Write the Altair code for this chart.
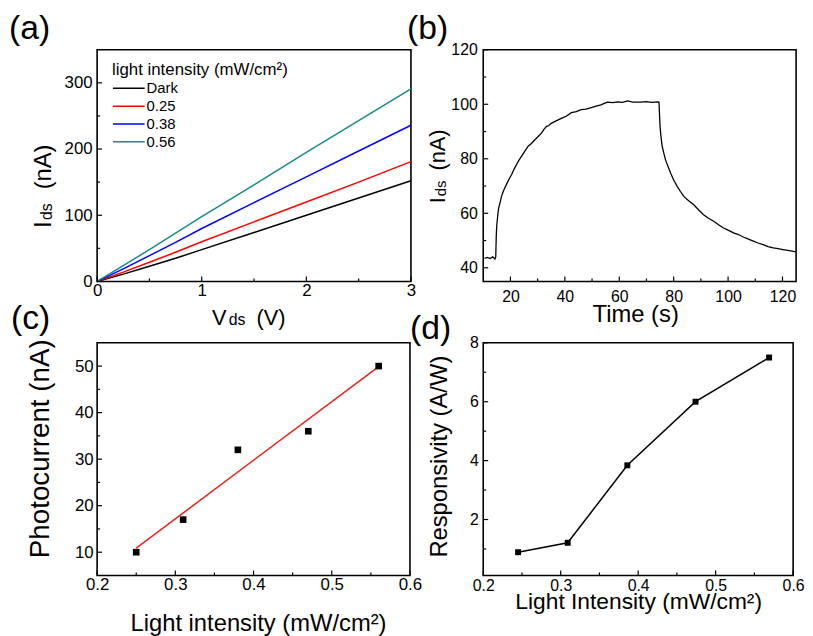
import altair as alt
import pandas as pd

FONT = "Liberation Sans"

# ---------------- (a) I-V curves ----------------
vds = [0, 0.25, 0.5, 0.75, 1.0, 1.5, 2.0, 2.5, 3.0]
ids_dark = [0, 11, 23, 35, 48, 74, 100, 126, 152]
ids_025 = [0, 14, 29, 44, 60, 90, 120, 150, 181]
ids_038 = [0, 19, 39, 59, 80, 119, 158, 197, 236]
ids_056 = [0, 24, 48, 73, 98, 146, 195, 243, 291]
series_names = ["Dark", "0.25", "0.38", "0.56"]
series_colors = ["#000000", "#ff0000", "#0000ff", "#178a8a"]
legend_title = "light intensity (mW/cm\u00b2)"

# ---------------- (b) time response ----------------
time_s = [10.5, 11.5, 12.5, 13.5, 14.3, 14.6, 14.8, 15.0, 15.6, 16.2, 16.8, 17.7, 18.6,
          19.5, 20.5, 21.4, 22.3, 23.2, 24.1, 25.3, 26.5, 27.7, 29.0, 30.2, 31.4, 32.3,
          33.2, 34.1, 35.0, 36.8, 38.7, 40.5, 42.4, 44.2, 46.0, 47.8, 49.7, 51.5, 53.3,
          54.5, 55.7, 57.5, 59.4, 61.2, 63.0, 65.0, 67.9, 70.0, 72.0, 74.0, 74.6, 75.0,
          75.4, 75.8, 76.4, 77.0, 78.0, 78.9, 80.0, 81.3, 82.5, 83.7, 85.5, 87.4, 89.2,
          91.0, 92.8, 94.7, 96.5, 98.3, 100.0, 102.0, 103.8, 105.6, 107.5, 109.3, 111.0,
          112.9, 114.7, 116.6, 118.4, 120.2, 122.5, 125.0]
ids_t = [43.5, 43.8, 43.4, 44.0, 43.2, 44.0, 52.0, 56.0, 61.5, 64.0, 66.5, 68.8, 70.7,
         72.6, 74.3, 76.3, 78.0, 79.6, 81.0, 82.8, 84.6, 85.6, 87.0, 88.2, 89.4, 90.8,
         91.8, 92.2, 93.0, 93.9, 94.8, 95.6, 96.9, 97.3, 98.0, 98.2, 98.8, 99.3, 99.8,
         100.3, 100.8, 100.6, 100.9, 100.7, 101.2, 100.8, 100.8, 101.0, 100.7, 100.9, 100.8, 91.7,
         87.5, 84.5, 82.0, 79.6, 77.0, 74.7, 72.2, 69.9, 68.0, 66.2, 64.6, 63.1, 61.2,
         59.5, 58.2, 57.1, 55.8, 54.6, 53.8, 52.8, 52.2, 51.3, 50.5, 49.8, 49.1,
         48.5, 47.8, 47.3, 47.0, 46.7, 46.3, 45.8]

# ---------------- (c) photocurrent ----------------
pc_intensity = [0.25, 0.31, 0.38, 0.47, 0.56]
photocurrent = [10, 17, 32, 36, 50]

# ---------------- (d) responsivity ----------------
resp_intensity = [0.245, 0.309, 0.386, 0.474, 0.569]
responsivity = [0.89, 1.21, 3.84, 6.0, 7.5]


def text_layer(txt, x, y, size, angle=0, align="left", baseline="alphabetic"):
    kw = dict(font=FONT, fontSize=size, align=align, baseline=baseline, color="black")
    if angle:
        kw["angle"] = angle
    return alt.Chart(pd.DataFrame({"t": [txt]})).mark_text(**kw).encode(
        x=alt.value(x), y=alt.value(y), text="t:N")


def make_axes(xdom, ydom, xvals, yvals, xfmt, yfmt, xpad, ypad, fs):
    xs = alt.Scale(domain=xdom, nice=False, zero=False)
    ys = alt.Scale(domain=ydom, nice=False, zero=False)
    common = dict(title=None, ticks=False, domain=False, grid=False, labelFontSize=fs,
                  labelFlush=False, labelOverlap=False, labelFont=FONT, labelColor="black")
    xa = alt.Axis(values=xvals, format=xfmt, labelPadding=xpad, **common)
    ya = alt.Axis(values=yvals, format=yfmt, labelPadding=ypad, **common)

    def X(f):
        return alt.X(f, scale=xs, axis=xa)

    def Y(f):
        return alt.Y(f, scale=ys, axis=ya)
    return X, Y


def tick_layers(X, Y, H, xmaj, xmin, ymaj, ymin):
    out = []
    for vals, L in ((xmaj, 5), (xmin, 3)):
        out.append(alt.Chart(pd.DataFrame({"v": vals})).mark_rule(color="black", strokeWidth=1.2)
                   .encode(x=X("v:Q"), y=alt.value(H), y2=alt.value(H - L)))
    for vals, L in ((ymaj, 5), (ymin, 3)):
        out.append(alt.Chart(pd.DataFrame({"v": vals})).mark_rule(color="black", strokeWidth=1.2)
                   .encode(y=Y("v:Q"), x=alt.value(0), x2=alt.value(L)))
    return out


# ================= panel (a) =================
WA, HA = 317, 234
Xa, Ya = make_axes([0, 3], [0, 350], [0, 1, 2, 3], [0, 100, 200, 300], "d", "d", 1, 5, 17)
rows = []
for name, vals in zip(series_names, [ids_dark, ids_025, ids_038, ids_056]):
    for v, i in zip(vds, vals):
        rows.append({"V": v, "I": i, "series": name})
df_a = pd.DataFrame(rows)
color_scale = alt.Scale(domain=series_names, range=series_colors)
lines_a = alt.Chart(df_a).mark_line(strokeWidth=1.5).encode(
    x=Xa("V:Q"), y=Ya("I:Q"),
    color=alt.Color("series:N", scale=color_scale, legend=None))
layers_a = [lines_a] + tick_layers(Xa, Ya, HA, [0, 1, 2, 3], [0.5, 1.5, 2.5],
                                   [0, 100, 200, 300], [50, 150, 250])
# legend
layers_a.append(text_layer(legend_title, 15, 26, 17))
for k, (name, col) in enumerate(zip(series_names, series_colors)):
    yy = 39 + 18 * k
    layers_a.append(alt.Chart(pd.DataFrame({"s": [name]})).mark_rule(color=col, strokeWidth=1.5)
                    .encode(x=alt.value(16), x2=alt.value(48), y=alt.value(yy)))
    layers_a.append(text_layer(name, 50, yy, 15, baseline="middle"))
# titles
layers_a += [
    text_layer("(a)", -89, -38, 34, baseline="top"),
    text_layer("V", 116, 278, 22),
    text_layer("ds", 133, 278, 16),
    text_layer("(V)", 161, 278, 22),
    text_layer("I", -47, 180, 24, angle=270),
    text_layer("ds", -46, 172, 16, angle=270),
    text_layer("(nA)", -47, 141, 24, angle=270),
]
panel_a = alt.layer(*layers_a).properties(width=WA, height=HA)

# ================= panel (b) =================
WB, HB = 316, 234
Xb, Yb = make_axes([10, 125], [35, 120], [20, 40, 60, 80, 100, 120], [40, 60, 80, 100, 120],
                   "d", "d", 7, 6, 16)
df_b = pd.DataFrame({"t": time_s, "I": ids_t})
line_b = alt.Chart(df_b).mark_line(color="black", strokeWidth=1.3).encode(x=Xb("t:Q"), y=Yb("I:Q"))
layers_b = [line_b] + tick_layers(Xb, Yb, HB, [20, 40, 60, 80, 100, 120], [30, 50, 70, 90, 110],
                                  [40, 60, 80, 100, 120], [50, 70, 90, 110])
layers_b += [
    text_layer("(b)", -77, -38, 34, baseline="top"),
    text_layer("Time (s)", 154, 275, 24, align="center"),
    text_layer("I", -39, 155, 22, angle=270),
    text_layer("ds", -38, 148, 15, angle=270),
    text_layer("(nA)", -39, 122, 22, angle=270),
]
panel_b = alt.layer(*layers_b).properties(width=WB, height=HB)

# ================= panel (c) =================
WC, HC = 316, 235
Xc, Yc = make_axes([0.2, 0.6], [5, 55], [0.2, 0.3, 0.4, 0.5, 0.6], [10, 20, 30, 40, 50],
                   ".1f", "d", 1, 4, 17)
df_c = pd.DataFrame({"x": pc_intensity, "y": photocurrent})
base_c = alt.Chart(df_c)
fit_c = base_c.transform_regression("x", "y", extent=[0.25, 0.56]).mark_line(
    color="#e8201f", strokeWidth=1.5).encode(x=Xc("x:Q"), y=Yc("y:Q"))
pts_c = base_c.mark_square(color="black", size=45, opacity=1).encode(x=Xc("x:Q"), y=Yc("y:Q"))
layers_c = [fit_c, pts_c] + tick_layers(Xc, Yc, HC, [0.2, 0.3, 0.4, 0.5, 0.6],
                                        [0.25, 0.35, 0.45, 0.55],
                                        [10, 20, 30, 40, 50], [15, 25, 35, 45])
layers_c += [
    text_layer("(c)", -87, -41, 34, baseline="top"),
    text_layer("Light intensity (mW/cm\u00b2)", 163, 291, 24, align="center"),
    text_layer("Photocurrent (nA)", -49, 107, 28, angle=270, align="center"),
]
panel_c = alt.layer(*layers_c).properties(width=WC, height=HC)

# ================= panel (d) =================
WD, HD = 313, 235
Xd, Yd = make_axes([0.2, 0.6], [0.1, 8], [0.2, 0.3, 0.4, 0.5, 0.6], [2, 4, 6, 8],
                   ".1f", "d", 2, 5, 16)
df_d = pd.DataFrame({"x": resp_intensity, "y": responsivity})
base_d = alt.Chart(df_d)
line_d = base_d.mark_line(color="black", strokeWidth=1.5).encode(x=Xd("x:Q"), y=Yd("y:Q"))
pts_d = base_d.mark_square(color="black", size=36, opacity=1).encode(x=Xd("x:Q"), y=Yd("y:Q"))
layers_d = [line_d, pts_d] + tick_layers(Xd, Yd, HD, [0.2, 0.3, 0.4, 0.5, 0.6],
                                         [0.25, 0.35, 0.45, 0.55],
                                         [2, 4, 6, 8], [1, 3, 5, 7])
layers_d += [
    text_layer("(d)", -74, -31, 34, baseline="top"),
    text_layer("Light Intensity (mW/cm\u00b2)", 157, 269, 23, align="center"),
    text_layer("Responsivity (A/W)", -37, 115, 24, angle=270, align="center"),
]
panel_d = alt.layer(*layers_d).properties(width=WD, height=HD)

chart = alt.concat(panel_a, panel_b, panel_c, panel_d, columns=2,
                   spacing={"row": 62, "column": 73}, bounds="flush").properties(
    padding=0, background="white"
).configure(font=FONT).configure_view(stroke="black", strokeWidth=1.6)

chart.save("out.html", embed_options={"renderer": "svg", "actions": False})
